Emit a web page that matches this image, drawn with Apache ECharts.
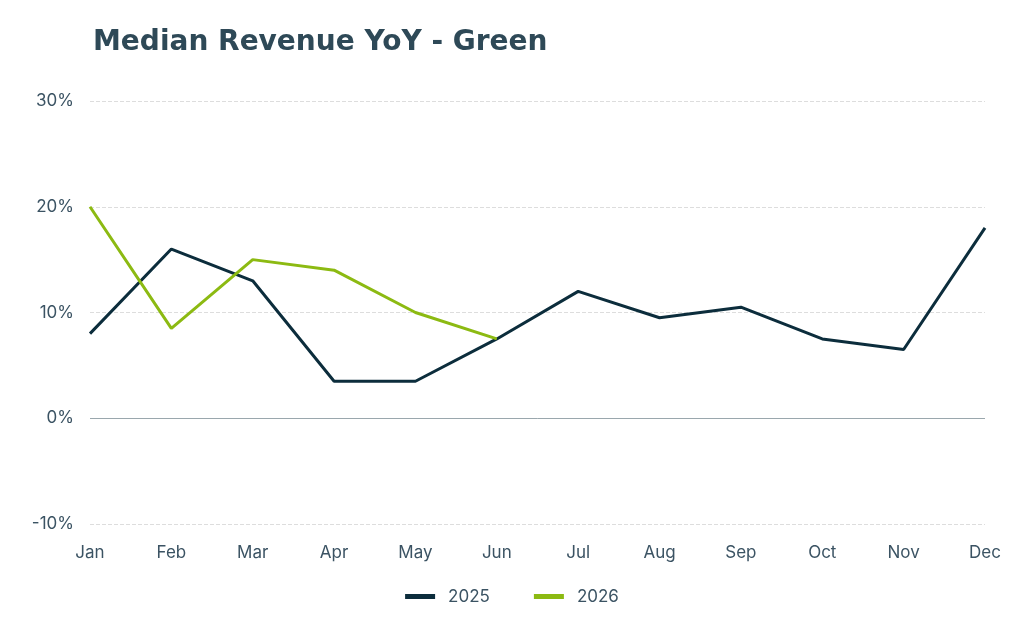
<!DOCTYPE html>
<html lang="en">
<head>
<meta charset="utf-8">
<title>Median Revenue YoY - Green</title>
<script src="https://cdn.jsdelivr.net/npm/echarts@6/dist/echarts.min.js"></script>
<style>
  html, body { margin: 0; padding: 0; background: #fff; }
  #main { width: 1024px; height: 640px; }
</style>
</head>
<body>
<div id="main"></div>
<script>
    // data
    const months = ['Jan', 'Feb', 'Mar', 'Apr', 'May', 'Jun', 'Jul', 'Aug', 'Sep', 'Oct', 'Nov', 'Dec'];
    const rev2025 = [8, 16, 13, 3.5, 3.5, 7.5, 12, 9.5, 10.5, 7.5, 6.5, 18];
    const rev2026 = [20, 8.5, 15, 14, 10, 7.5];

    const textColor = '#3b5363';
    const chart = echarts.init(document.getElementById('main'));
    chart.setOption({
        title: {
            text: 'Median Revenue YoY - Green',
            left: 88, top: 24,
            textStyle: { fontFamily: 'DejaVu Sans', fontWeight: 'bold', fontSize: 28, color: '#2e4957' }
        },
        legend: {
            bottom: 30, left: 'center', itemGap: 44, itemWidth: 30, itemHeight: 5, icon: 'rect',
            textStyle: { fontFamily: 'Inter', fontSize: 17, color: textColor, padding: [0, 0, 0, 8] },
            data: ['2025', '2026']
        },
        grid: { left: 90, right: 39, top: 101, bottom: 116 },
        xAxis: {
            type: 'category', data: months, boundaryGap: false,
            axisLine: { show: false }, axisTick: { show: false },
            axisLabel: { fontFamily: 'Inter', fontSize: 17, color: textColor, margin: 20 }
        },
        yAxis: {
            type: 'value', min: -10, max: 30, interval: 10,
            axisLabel: { formatter: '{value}%', fontFamily: 'Inter', fontSize: 17, color: textColor, margin: 16 },
            splitLine: { lineStyle: { type: 'dashed', color: '#dddddd' } }
        },
        series: [
            {
                name: '2025', type: 'line', data: rev2025, showSymbol: false,
                lineStyle: { width: 3, color: '#0c2d3c' }, itemStyle: { color: '#0c2d3c' },
                markLine: {
                    silent: true, symbol: 'none', label: { show: false },
                    lineStyle: { type: 'solid', color: '#9aa7ad', width: 1 },
                    data: [{ yAxis: 0 }]
                }
            },
            {
                name: '2026', type: 'line', data: rev2026, showSymbol: false,
                lineStyle: { width: 3, color: '#8cba12' }, itemStyle: { color: '#8cba12' }
            }
        ]
    });
</script>
</body>
</html>
